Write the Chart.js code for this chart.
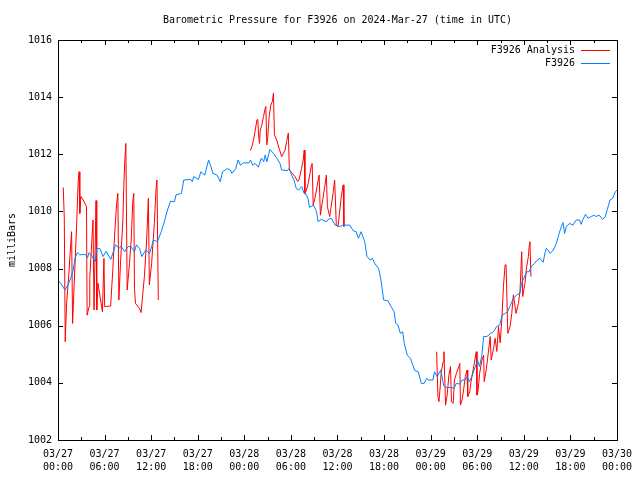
<!DOCTYPE html>
<html>
<head>
<meta charset="utf-8">
<script src="https://cdn.jsdelivr.net/npm/chart.js@4/dist/chart.umd.min.js"></script>
<style>
  body { margin: 0; background: #fff; }
</style>
</head>
<body>
<canvas id="chart" width="640" height="480"></canvas>
<script>
const titleText = "Barometric Pressure for F3926 on 2024-Mar-27 (time in UTC)";
const yTitle = "milliBars";
const seriesNames = ["F3926 Analysis", "F3926"];
const seriesColors = ["#ff0000", "#0080ff"];

// x axis: hours since 03/27 00:00 UTC, one label every 6 hours
const xTickLabels = [
  ["03/27", "00:00"], ["03/27", "06:00"], ["03/27", "12:00"], ["03/27", "18:00"],
  ["03/28", "00:00"], ["03/28", "06:00"], ["03/28", "12:00"], ["03/28", "18:00"],
  ["03/29", "00:00"], ["03/29", "06:00"], ["03/29", "12:00"], ["03/29", "18:00"],
  ["03/30", "00:00"]
];
const yTicks = [1002, 1004, 1006, 1008, 1010, 1012, 1014, 1016];

// station observations (blue)
const stationHours = [
  0, 0.26, 0.9, 1.3, 1.7, 1.96, 2.2, 2.5, 2.8, 3.5, 3.8, 4.0, 4.4, 4.8, 5.0, 5.4, 5.8, 6.2, 6.8, 7.2,
  7.4, 7.9, 8.1, 8.6, 9.0, 9.4, 9.85, 10.1, 10.5, 10.8, 11.3, 11.8, 12.3, 12.8, 13.3, 13.7, 14.1, 14.5, 15.0, 15.2,
  15.9, 16.2, 17.1, 17.3, 17.5, 18.1, 18.4, 18.9, 19.4, 19.7, 19.95, 20.5, 20.9, 21.2, 21.8, 22.2, 22.4, 22.9, 23.2, 23.5,
  23.9, 24.6, 24.8, 25.1, 25.4, 25.8, 26.2, 26.5, 26.7, 26.9, 27.3, 27.75, 28.2, 28.6, 28.8, 29.5, 29.8, 30.1, 30.4, 30.7,
  31.0, 31.4, 31.7, 32.0, 32.2, 32.4, 32.9, 33.3, 33.5, 33.9, 34.6, 34.8, 35.2, 35.7, 36.3, 36.7, 37.6, 38.0, 38.4, 38.7,
  39.05, 39.5, 39.8, 40.2, 40.5, 40.8, 41.3, 41.6, 41.95, 42.5, 42.9, 43.3, 43.5, 43.8, 44.1, 44.4, 44.6, 45.0, 45.4, 45.95,
  46.4, 46.8, 47.15, 47.5, 47.7, 48.3, 48.5, 48.85, 49.3, 49.7, 50.0, 50.55, 51.0, 51.3, 51.75, 52.05, 52.47, 52.7, 53.0, 53.3,
  53.75, 54.06, 54.3, 54.6, 54.83, 55.25, 55.7, 56.1, 56.5, 56.9, 57.2, 57.6, 57.9, 58.2, 58.66, 59.1, 59.5, 59.7, 60.0, 60.4,
  60.7, 61.0, 61.4, 61.65, 62.1, 62.5, 62.7, 62.9, 63.1, 63.4, 63.8, 64.2, 64.55, 64.84, 65.05, 65.26, 65.48, 65.9, 66.33, 66.76,
  67.18, 67.4, 67.62, 67.95, 68.26, 68.68, 69.1, 69.3, 69.7, 70.17, 70.5, 70.8, 71.1, 71.45, 71.8, 72.0
];
const stationPressure = [
  1007.55, 1007.52, 1007.25, 1007.43, 1007.72, 1007.95, 1008.37, 1008.56, 1008.48, 1008.50, 1008.37, 1008.56, 1008.42, 1008.24, 1008.71, 1008.70, 1008.42, 1008.60, 1008.32, 1008.65,
  1008.83, 1008.71, 1008.79, 1008.59, 1008.77, 1008.77, 1008.59, 1008.83, 1008.71, 1008.42, 1008.65, 1008.53, 1009.00, 1008.94, 1009.29, 1009.64, 1010.05, 1010.36, 1010.34, 1010.58,
  1010.63, 1011.10, 1011.12, 1011.04, 1011.22, 1011.12, 1011.39, 1011.27, 1011.80, 1011.57, 1011.33, 1011.27, 1011.04, 1011.39, 1011.50, 1011.45, 1011.33, 1011.50, 1011.80, 1011.62,
  1011.70, 1011.70, 1011.80, 1011.62, 1011.68, 1011.55, 1011.87, 1011.74, 1011.98, 1011.74, 1012.17, 1012.03, 1011.86, 1011.68, 1011.45, 1011.43, 1011.50, 1011.27, 1011.10, 1010.80,
  1010.75, 1010.87, 1010.63, 1010.58, 1010.46, 1010.14, 1010.22, 1010.00, 1009.64, 1009.72, 1009.64, 1009.72, 1009.76, 1009.52, 1009.47, 1009.52, 1009.52, 1009.33, 1009.29, 1009.06,
  1009.29, 1008.95, 1008.42, 1008.30, 1008.36, 1008.18, 1008.00, 1007.60, 1006.90, 1006.87, 1006.67, 1006.49, 1006.08, 1006.02, 1005.73, 1005.79, 1005.38, 1004.97, 1004.86, 1004.43,
  1004.39, 1003.98, 1003.98, 1004.16, 1004.10, 1004.10, 1004.39, 1004.22, 1004.45, 1003.89, 1003.84, 1003.84, 1003.81, 1003.98, 1003.96, 1004.10, 1004.10, 1004.22, 1004.04, 1004.22,
  1004.57, 1004.78, 1004.57, 1004.97, 1005.62, 1005.62, 1005.73, 1005.79, 1005.97, 1006.02, 1006.37, 1006.43, 1006.49, 1006.67, 1006.96, 1007.08, 1007.13, 1007.48, 1007.66, 1007.89,
  1007.89, 1008.09, 1008.18, 1008.28, 1008.36, 1008.22, 1008.51, 1008.71, 1008.65, 1008.53, 1008.65, 1008.88, 1009.23, 1009.47, 1009.61, 1009.23, 1009.47, 1009.58, 1009.52, 1009.70,
  1009.70, 1009.55, 1009.72, 1009.90, 1009.76, 1009.82, 1009.87, 1009.82, 1009.87, 1009.72, 1009.82, 1010.11, 1010.40, 1010.46, 1010.69, 1010.75
];

// analysis runs (red), null pressure = gap between runs
const analysisHours = [
  0.68, 0.81, 0.93, 1.11, 1.41, 1.53, 1.75, 1.88, 2.39, 2.60, 2.72, 2.81, 2.94, 3.24, 3.67, 3.75, 4.00, 4.09, 4.51, 4.64,
  4.90, 4.99, 5.15, 5.72, 5.92, 6.01, 6.78, 7.07, 7.29, 7.55, 7.71, 7.84, 8.06, 8.35, 8.48, 8.61, 8.74, 8.91, 9.21, 9.43,
  9.63, 9.76, 9.85, 9.98, 10.49, 10.70, 10.91, 11.13, 11.42, 11.64, 11.77, 12.06, 12.41, 12.62, 12.75, 12.92,
  18,
  24.77, 24.98, 25.19, 25.41, 25.62, 25.74, 25.83, 25.96, 26.05, 26.26, 26.47, 26.69, 26.77, 26.90, 27.02, 27.20, 27.41, 27.62, 27.75, 27.88,
  28.17, 28.48, 28.81, 29.25, 29.45, 29.67, 29.80, 30.09, 30.53, 30.86, 31.04, 31.37, 31.59, 31.72, 31.81, 32.01, 32.23, 32.45, 32.65, 32.74,
  32.87, 33.09, 33.29, 33.51, 33.64, 33.80, 33.93, 34.36, 34.57, 34.70, 35.00, 35.43, 35.64, 35.85, 36.07, 36.49, 36.74, 36.83,
  42,
  48.77, 48.94, 49.07, 49.20, 49.37, 49.62, 49.71, 49.84, 49.92, 50.13, 50.35, 50.56, 50.68, 50.90, 51.07, 51.32, 51.63, 51.76, 51.84, 52.05,
  52.27, 52.47, 52.69, 52.78, 53.04, 53.20, 53.55, 53.88, 53.97, 54.10, 54.31, 54.61, 54.83, 54.90, 55.16, 55.47, 55.67, 55.80, 56.11, 56.31,
  56.53, 56.74, 56.95, 57.17, 57.38, 57.59, 57.72, 57.94, 58.23, 58.45, 58.66, 59.00, 59.31, 59.51, 59.73, 59.86, 60.15, 60.37, 60.59, 60.71,
  60.79, 60.92
];
const analysisPressure = [
  1010.84, 1009.76, 1005.44, 1006.78, 1007.84, 1008.42, 1009.29, 1006.08, 1009.47, 1011.05, 1011.39, 1009.93, 1010.53, 1010.40, 1010.17, 1006.37, 1006.67, 1007.66, 1009.70, 1006.55,
  1010.38, 1006.55, 1007.49, 1006.49, 1008.36, 1006.67, 1006.69, 1008.00, 1009.17, 1010.28, 1010.63, 1006.90, 1008.24, 1009.64, 1010.93, 1011.80, 1012.38, 1007.25, 1008.18, 1009.00,
  1010.34, 1010.63, 1007.31, 1006.78, 1006.61, 1006.46, 1007.08, 1007.72, 1009.00, 1010.46, 1007.43, 1008.18, 1009.58, 1010.75, 1011.10, 1006.90,
  null,
  1012.13, 1012.27, 1012.50, 1012.85, 1013.20, 1013.22, 1012.68, 1012.38, 1012.85, 1013.03, 1013.32, 1013.61, 1013.67, 1012.33, 1012.62, 1013.32, 1013.72, 1013.85, 1014.14, 1012.68,
  1012.50, 1012.21, 1011.92, 1012.15, 1012.45, 1012.74, 1011.45, 1011.36, 1011.22, 1011.05, 1011.10, 1011.50, 1011.80, 1012.15, 1010.63, 1010.75, 1010.98, 1011.33, 1011.62, 1011.68,
  1010.22, 1010.46, 1010.75, 1011.10, 1011.27, 1009.87, 1010.11, 1010.87, 1011.27, 1010.17, 1009.82, 1010.63, 1011.10, 1009.52, 1009.47, 1010.52, 1010.93, 1009.47,
  null,
  1005.09, 1003.52, 1003.34, 1003.75, 1004.39, 1004.74, 1005.09, 1003.98, 1003.22, 1003.57, 1004.27, 1004.57, 1003.34, 1003.28, 1004.10, 1004.33, 1004.57, 1004.68, 1003.22, 1003.40,
  1003.81, 1004.22, 1004.45, 1003.52, 1003.69, 1004.04, 1004.57, 1005.09, 1003.57, 1003.69, 1004.33, 1004.80, 1004.97, 1004.04, 1004.45, 1005.15, 1005.62, 1004.80, 1005.21, 1005.56,
  1005.10, 1005.97, 1005.40, 1006.20, 1007.37, 1008.13, 1008.13, 1005.73, 1005.97, 1006.43, 1007.08, 1006.43, 1006.78, 1007.20, 1008.59, 1007.02, 1007.49, 1008.06, 1008.42, 1008.83,
  1008.94, 1007.72
];

const monoFont = "DejaVu Sans Mono";

const toPoints = (hours, values) => hours.map((h, i) => ({ x: h, y: values[i] }));

// border, inward ticks, title, legend and y title drawn like the gnuplot original
const framePlugin = {
  id: "frame",
  afterDraw(chart) {
    const ctx = chart.ctx;
    const a = chart.chartArea;
    const xs = chart.scales.x;
    const ys = chart.scales.y;
    ctx.save();
    ctx.strokeStyle = "#000";
    ctx.lineWidth = 1;
    ctx.beginPath();
    for (let h = 0; h <= 72; h += 3) {
      const px = Math.round(xs.getPixelForValue(h)) + 0.5;
      const len = h % 6 === 0 ? 5 : 3;
      ctx.moveTo(px, a.bottom); ctx.lineTo(px, a.bottom - len);
      ctx.moveTo(px, a.top); ctx.lineTo(px, a.top + len);
    }
    yTicks.forEach((v) => {
      const py = Math.round(ys.getPixelForValue(v)) + 0.5;
      ctx.moveTo(a.left, py); ctx.lineTo(a.left + 5, py);
      ctx.moveTo(a.right, py); ctx.lineTo(a.right - 5, py);
    });
    ctx.stroke();
    ctx.strokeRect(Math.round(a.left) + 0.5, Math.round(a.top) + 0.5, Math.round(a.right - a.left), Math.round(a.bottom - a.top));

    ctx.fillStyle = "#000";
    ctx.font = "10px '" + monoFont + "'";
    ctx.textBaseline = "middle";
    ctx.textAlign = "center";
    ctx.fillText(titleText, (a.left + a.right) / 2, 20);

    // legend in the top right corner
    ctx.textAlign = "right";
    seriesNames.forEach((name, i) => {
      const y = 50 + i * 13;
      ctx.fillStyle = "#000";
      ctx.fillText(name, 575, y);
      ctx.strokeStyle = seriesColors[i];
      ctx.beginPath();
      ctx.moveTo(581, y + 0.5); ctx.lineTo(610, y + 0.5);
      ctx.stroke();
    });

    ctx.translate(12, (a.top + a.bottom) / 2);
    ctx.rotate(-Math.PI / 2);
    ctx.textAlign = "center";
    ctx.fillStyle = "#000";
    ctx.fillText(yTitle, 0, 0);
    ctx.restore();
  }
};

new Chart(document.getElementById("chart"), {
  type: "line",
  data: {
    datasets: [
      {
        label: seriesNames[0],
        data: toPoints(analysisHours, analysisPressure),
        borderColor: seriesColors[0],
        borderWidth: 1,
        pointRadius: 0,
        tension: 0,
        spanGaps: false,
        order: 1
      },
      {
        label: seriesNames[1],
        data: toPoints(stationHours, stationPressure),
        borderColor: seriesColors[1],
        borderWidth: 1,
        pointRadius: 0,
        tension: 0,
        order: 0
      }
    ]
  },
  options: {
    responsive: false,
    animation: false,
    events: [],
    layout: { padding: { top: 40, right: 19, left: 0, bottom: 0 } },
    plugins: { legend: { display: false }, title: { display: false }, tooltip: { enabled: false } },
    scales: {
      x: {
        type: "linear",
        min: 0,
        max: 72,
        afterFit: (s) => { s.height = 40; },
        afterBuildTicks: (s) => { s.ticks = xTickLabels.map((_, i) => ({ value: i * 6 })); },
        grid: { display: false, drawTicks: false },
        border: { display: false },
        ticks: {
          autoSkip: false,
          maxRotation: 0,
          padding: 8,
          color: "#000",
          font: { family: monoFont, size: 10, lineHeight: 1.3 },
          callback: (v) => xTickLabels[Math.round(v / 6)]
        }
      },
      y: {
        min: 1002,
        max: 1016,
        afterFit: (s) => { s.width = 58; },
        afterBuildTicks: (s) => { s.ticks = yTicks.map((v) => ({ value: v })); },
        grid: { display: false, drawTicks: false },
        border: { display: false },
        ticks: {
          padding: 6,
          color: "#000",
          font: { family: monoFont, size: 10 },
          callback: (v) => String(v)
        }
      }
    }
  },
  plugins: [framePlugin]
});
</script>
</body>
</html>
